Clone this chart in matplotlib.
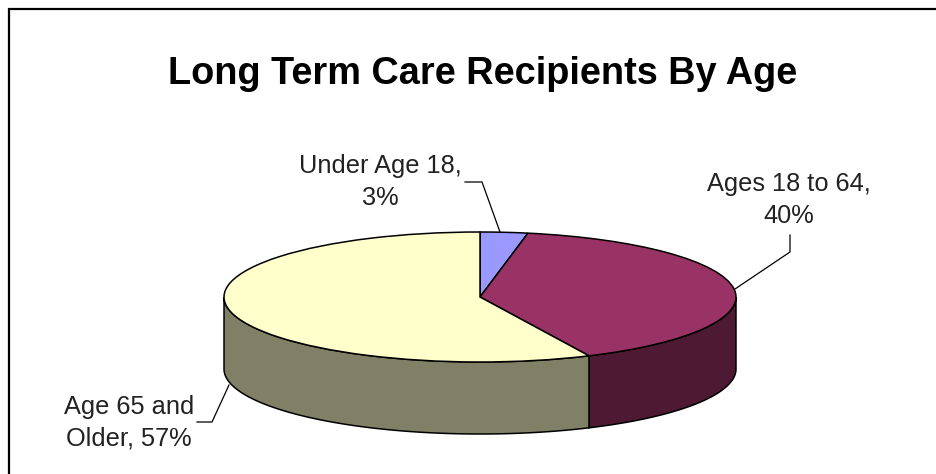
import numpy as np
import matplotlib
matplotlib.use('Agg')
import matplotlib.pyplot as plt

# Data
TITLE = 'Long Term Care Recipients By Age'
CATEGORIES = ['Under Age 18', 'Ages 18 to 64', 'Age 65 and Older']
SHARES = [3, 40, 57]
LABELS = ['Under Age 18,\n3%', 'Ages 18 to 64,\n40%', 'Age 65 and\nOlder, 57%']

# Colours
TOP_COLORS = ['#9999FF', '#993366', '#FFFFCC']
SIDE_COLORS = ['#4D4D80', '#4D1933', '#808066']

# Layout in reference pixels
W, H = 936, 474
PIE_LEFT, PIE_RIGHT = 224, 736
PIE_TOP, PIE_BOTTOM = 232, 362
DEPTH = 72

plt.rcParams['font.family'] = ['Liberation Sans', 'DejaVu Sans']

fig = plt.figure(figsize=(W / 100, H / 100), dpi=100, facecolor='white')

# Background axes in pixel coordinates, for border, text and leader lines
bg = fig.add_axes([0, 0, 1, 1])
bg.set_xlim(0, W)
bg.set_ylim(H, 0)
bg.axis('off')
# Border is cropped by the image on the right and at the bottom
bg.plot([9, 9, W], [H, 9, 9], color='black', lw=1.6, solid_joinstyle='miter')
bg.text(483, 74, TITLE, fontsize=27.3, fontweight='bold', ha='center', va='center', color='black')
bg.text(380, 182, LABELS[0], fontsize=18.3, ha='center', va='center', linespacing=1.42, color='#222222')
bg.text(789, 200, LABELS[1], fontsize=18.3, ha='center', va='center', linespacing=1.42, color='#222222')
bg.text(129, 423, LABELS[2], fontsize=18.3, ha='center', va='center', linespacing=1.42, color='#222222')
bg.plot([465, 482, 500], [182, 182, 232], color='black', lw=0.9)
bg.plot([790, 790, 735], [235, 252, 289], color='black', lw=0.9)
bg.plot([197, 212, 229], [422, 422, 385], color='black', lw=0.9)

# Pie axes: unit circle squashed to the ellipse, with room below for the side wall
ry = (PIE_BOTTOM - PIE_TOP) / 2
drop = DEPTH / ry
ax = fig.add_axes([PIE_LEFT / W, 1 - (PIE_BOTTOM + DEPTH) / H,
                   (PIE_RIGHT - PIE_LEFT) / W, (PIE_BOTTOM + DEPTH - PIE_TOP) / H])
ax.patch.set_visible(False)

# Side wall: only the part of each slice on the front half of the rim shows
edges = np.cumsum([0] + SHARES) / sum(SHARES) * 2 * np.pi
for i, color in enumerate(SIDE_COLORS):
    start = max(edges[i], np.pi / 2)
    stop = min(edges[i + 1], 3 * np.pi / 2)
    if stop <= start:
        continue
    t = np.linspace(start, stop, 120)
    x = np.sin(t)
    y = np.cos(t)
    ax.fill(np.r_[x, x[::-1]], np.r_[y, y[::-1] - drop], facecolor=color,
            edgecolor='black', lw=1.1, joinstyle='miter', clip_on=False)

ax.pie(SHARES, colors=TOP_COLORS, startangle=90, counterclock=False, radius=1,
       wedgeprops={'edgecolor': 'black', 'linewidth': 1.1})
ax.set_aspect('auto')
ax.set_xlim(-1, 1)
ax.set_ylim(-1 - drop, 1)
for p in ax.patches:
    p.set_clip_on(False)

fig.savefig('out.png', dpi=100)
